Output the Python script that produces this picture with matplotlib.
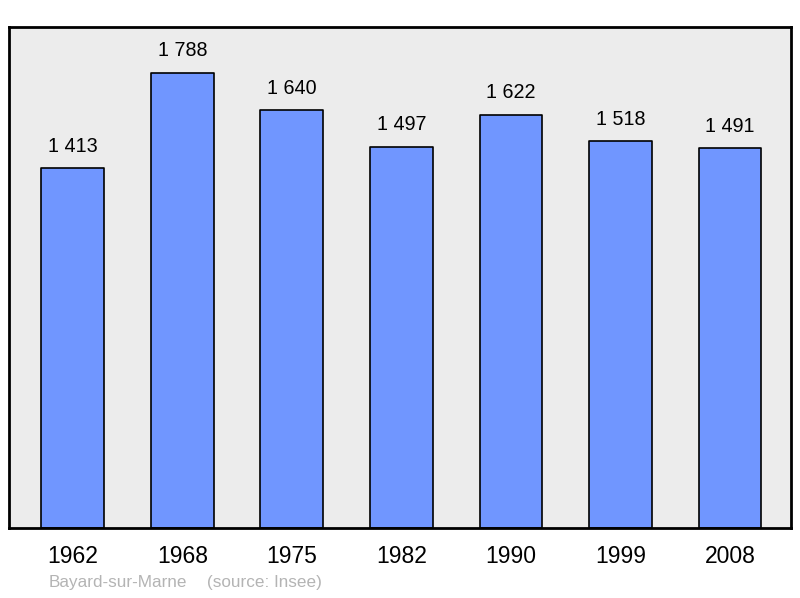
import matplotlib as mpl
mpl.use('Agg')
import matplotlib.pyplot as plt
import numpy as np

plt.rcParams['font.family'] = ['Liberation Sans', 'DejaVu Sans']

# data
years = ['1962', '1968', '1975', '1982', '1990', '1999', '2008']
population = [1413, 1788, 1640, 1497, 1622, 1518, 1491]
value_labels = ['1 413', '1 788', '1 640', '1 497', '1 622', '1 518', '1 491']
commune = 'Bayard-sur-Marne'
source = '(source: Insee)'

fig = plt.figure(figsize=(8, 5.98), dpi=100)
ax = fig.add_axes([0.01125, 0.1171, 0.9775, 0.8378])
ax.set_facecolor('#ececec')

x = np.arange(len(years))
bars = ax.bar(x, population, width=0.575, color='#7096ff', edgecolor='black',
              linewidth=1.2, joinstyle='round')
for xi, v, lab in zip(x, population, value_labels):
	ax.annotate(lab, (xi, v), xytext=(0, 9), textcoords='offset points',
	            ha='center', va='bottom', fontsize=14.2)

ax.set_xlim(-0.584, 6.557)
ax.set_ylim(0, max(population) * 1.1)
ax.set_yticks([])
ax.set_xticks(x)
ax.set_xticklabels(years, fontsize=16.5)
ax.tick_params(axis='x', length=0, pad=12.5)
for s in ax.spines.values():
	s.set_linewidth(2)
	s.set_color('black')

fig.text(49/800, 1-583/598, commune, color='#b4b4b4', fontsize=12.3, va='center', ha='left')
fig.text(207/800, 1-583/598, source, color='#b4b4b4', fontsize=12.3, va='center', ha='left')

plt.savefig('out.png', dpi=100)
